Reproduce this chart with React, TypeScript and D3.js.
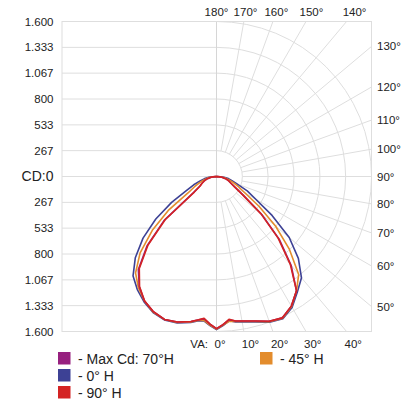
import React, { useEffect, useRef } from 'react';
import * as d3 from 'd3';

// vertical angles (deg from nadir) the intensities were read at
const gammaAngles = [0, 2.5, 5, 7.5, 10, 15, 20, 25, 30, 35, 40, 45, 50, 55, 60, 65, 70, 75, 80, 85, 90];

// candela values, one array per half-plane (left / right of the nadir line)
const maxCdLeft = [1570, 1525, 1475, 1495, 1520, 1555, 1570, 1540, 1485, 1390, 1255, 1015, 705, 290, 200, 165, 135, 105, 70, 40, 0];
const maxCdRight = [1570, 1530, 1485, 1505, 1515, 1545, 1590, 1610, 1545, 1440, 1200, 915, 610, 340, 220, 165, 135, 105, 70, 40, 0];
const c0Left = [1580, 1540, 1495, 1505, 1530, 1565, 1575, 1550, 1495, 1425, 1340, 1185, 990, 765, 535, 340, 250, 175, 125, 70, 0];
const c0Right = [1580, 1540, 1495, 1515, 1525, 1555, 1600, 1620, 1560, 1455, 1365, 1195, 980, 700, 465, 350, 225, 165, 125, 70, 0];
const c90Left = [1570, 1525, 1470, 1495, 1520, 1555, 1570, 1540, 1485, 1385, 1240, 1000, 690, 280, 195, 165, 135, 105, 70, 40, 0];
const c90Right = [1570, 1530, 1480, 1505, 1515, 1545, 1590, 1610, 1545, 1440, 1185, 900, 600, 330, 215, 165, 135, 105, 70, 40, 0];
const c45Left = [1575, 1535, 1490, 1500, 1525, 1560, 1570, 1545, 1485, 1405, 1300, 1115, 865, 600, 340, 250, 185, 135, 95, 50, 0];
const c45Right = [1575, 1535, 1500, 1510, 1520, 1550, 1595, 1615, 1550, 1440, 1320, 1065, 795, 535, 340, 250, 185, 135, 95, 50, 0];

const cdTicks = [1600, 1333, 1067, 800, 533, 267, 0, 267, 533, 800, 1067, 1333, 1600];
const cdTickLabels = ['1.600', '1.333', '1.067', '800', '533', '267', 'CD:0', '267', '533', '800', '1.067', '1.333', '1.600'];
const ringValues = [267, 533, 800, 1067, 1333, 1600];
const spokeAngles = d3.range(10, 180, 10);
const topLabelAngles = [180, 170, 160, 150, 140];
const sideLabelAngles = [130, 120, 110, 100, 90, 80, 70, 60, 50];
const bottomLabelAngles = [0, 10, 20, 30, 40];

const series = [
  { name: '- Max Cd: 70°H', color: '#97207f', left: maxCdLeft, right: maxCdRight },
  { name: '- 0° H', color: '#3d4195', left: c0Left, right: c0Right },
  { name: '- 90° H', color: '#d42323', left: c90Left, right: c90Right },
  { name: '- 45° H', color: '#e38c2c', left: c45Left, right: c45Right },
];
const drawOrder = [1, 3, 0, 2];

const W = 405;
const H = 401;
const FONT = '"Liberation Sans", Arial, Helvetica, sans-serif';

const App: React.FC = () => {
  const svgRef = useRef<SVGSVGElement>(null);

  useEffect(() => {
    if (!svgRef.current) return;
    const svg = d3.select(svgRef.current);
    svg.selectAll('*').remove();

    const cx = 216.5;
    const cy = 176.5;
    const R = 155;
    const left = 62;
    const r = d3.scaleLinear().domain([0, 1600]).range([0, R]);
    const frame = { x0: left, x1: cx + R, y0: cy - R, y1: cy + R };
    const rad = (deg: number) => (deg * Math.PI) / 180;
    const grid = '#dedede';

    svg.append('clipPath').attr('id', 'frame-clip')
      .append('rect')
      .attr('x', frame.x0).attr('y', frame.y0)
      .attr('width', frame.x1 - frame.x0).attr('height', frame.y1 - frame.y0);

    const g = svg.append('g').attr('clip-path', 'url(#frame-clip)');

    // left half: horizontal cd lines
    cdTicks.forEach((v, i) => {
      const y = i < 6 ? cy - r(v) : cy + r(v);
      g.append('line')
        .attr('x1', frame.x0).attr('x2', cx)
        .attr('y1', y).attr('y2', y)
        .style('stroke', grid).style('stroke-width', 1);
    });

    // right half: rings
    ringValues.forEach(v => {
      const p = d3.path();
      p.moveTo(cx, cy - r(v));
      p.arc(cx, cy, r(v), -Math.PI / 2, Math.PI / 2);
      g.append('path').attr('d', p.toString())
        .style('fill', 'none').style('stroke', grid).style('stroke-width', 1);
    });

    // spokes every 10°
    spokeAngles.forEach(a => {
      const dx = Math.sin(rad(a));
      const dy = Math.cos(rad(a));
      const r0 = r(267);
      g.append('line')
        .attr('x1', cx + r0 * dx).attr('y1', cy + r0 * dy)
        .attr('x2', cx + 400 * dx).attr('y2', cy + 400 * dy)
        .style('stroke', grid).style('stroke-width', 1);
    });

    g.append('line')
      .attr('x1', cx).attr('x2', cx).attr('y1', frame.y0).attr('y2', frame.y1)
      .style('stroke', '#d6d6d6').style('stroke-width', 1);

    svg.append('rect')
      .attr('x', frame.x0).attr('y', frame.y0)
      .attr('width', frame.x1 - frame.x0).attr('height', frame.y1 - frame.y0)
      .style('fill', 'none').style('stroke', grid).style('stroke-width', 1);

    // curves
    const line = d3.lineRadial<[number, number]>()
      .angle(d => d[0])
      .radius(d => r(d[1]));

    const plot = svg.append('g').attr('transform', `translate(${cx},${cy})`);
    drawOrder.forEach(idx => {
      const s = series[idx];
      const pts: [number, number][] = [];
      for (let i = gammaAngles.length - 1; i >= 0; i--) pts.push([Math.PI + rad(gammaAngles[i]), s.left[i]]);
      for (let i = 1; i < gammaAngles.length; i++) pts.push([Math.PI - rad(gammaAngles[i]), s.right[i]]);
      plot.append('path')
        .attr('d', line(pts))
        .style('fill', 'none')
        .style('stroke', s.color)
        .style('stroke-width', 1.6)
        .style('stroke-linejoin', 'round');
    });

    const text = svg.append('g').style('font-family', FONT).style('fill', '#222');

    // cd tick labels
    cdTicks.forEach((v, i) => {
      const y = i < 6 ? cy - r(v) : cy + r(v);
      text.append('text')
        .attr('x', 53.5).attr('y', y)
        .attr('dy', '0.35em')
        .attr('text-anchor', 'end')
        .style('font-size', i === 6 ? '14px' : '11.5px')
        .text(cdTickLabels[i]);
    });

    // angle labels
    topLabelAngles.forEach(a => {
      const x = cx + (cy - 12) * Math.tan(rad(180 - a));
      text.append('text')
        .attr('x', x).attr('y', 12).attr('dy', '0.35em')
        .attr('text-anchor', 'middle')
        .style('font-size', '11.5px')
        .text(`${a}°`);
    });

    sideLabelAngles.forEach(a => {
      const y = cy + R * Math.cos(rad(a)) / Math.sin(rad(a));
      text.append('text')
        .attr('x', frame.x1 + 5.5).attr('y', y).attr('dy', '0.35em')
        .style('font-size', '11.5px')
        .text(`${a}°`);
    });

    bottomLabelAngles.forEach(a => {
      const x = cx + R * Math.tan(rad(a)) - 2;
      text.append('text')
        .attr('x', x).attr('y', 347.5)
        .style('font-size', '11.5px')
        .text(`${a}°`);
    });
    text.append('text')
      .attr('x', 208).attr('y', 347.5)
      .attr('text-anchor', 'end')
      .style('font-size', '11.5px')
      .text('VA:');

    // legend
    const legend = svg.append('g').style('font-family', FONT);
    series.forEach((s, i) => {
      const col = Math.floor(i / 3);
      const row = i % 3;
      const x = 58 + col * 202;
      const y = 352 + row * 17;
      legend.append('rect')
        .attr('x', x).attr('y', y)
        .attr('width', 12.5).attr('height', 12.5)
        .style('fill', s.color);
      legend.append('text')
        .attr('x', x + 20).attr('y', y + 12)
        .style('font-size', '14px')
        .style('fill', '#222')
        .text(s.name);
    });
  }, []);

  return (
    <div style={{ position: 'absolute', left: 0, top: 0, width: W, height: H, background: '#fff' }}>
      <svg ref={svgRef} width={W} height={H}></svg>
    </div>
  );
};

export default App;
